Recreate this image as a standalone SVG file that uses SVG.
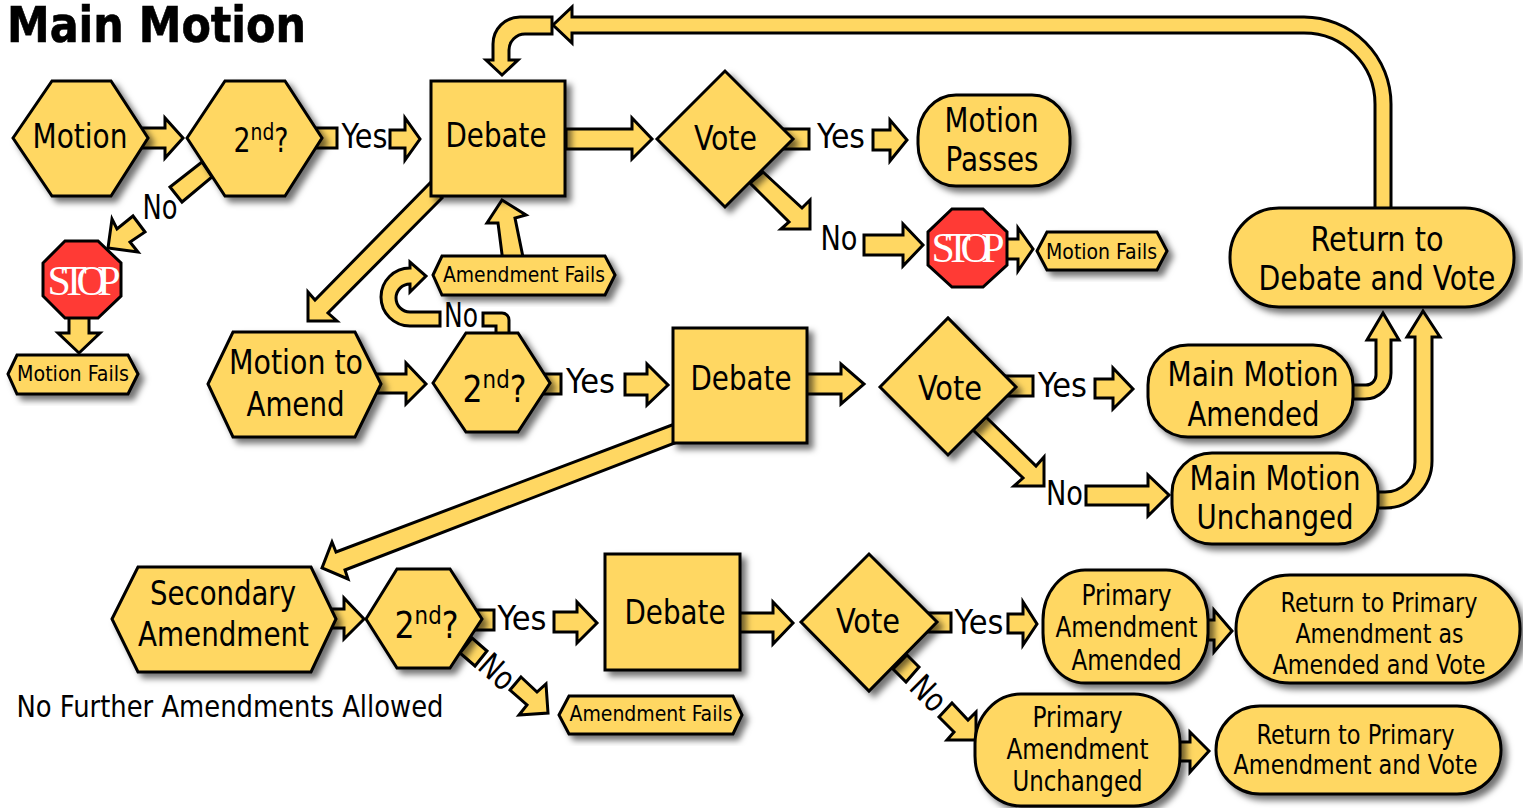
<svg xmlns="http://www.w3.org/2000/svg" width="1523" height="808" viewBox="0 0 1523 808">
<style>
text{font-family:"DejaVu Sans Condensed","DejaVu Sans",sans-serif;font-stretch:condensed;fill:#000;text-anchor:middle}
.a{fill:#FFD762;stroke:#000;stroke-width:3;stroke-linejoin:miter;stroke-miterlimit:10}
.n{fill:#FFD762;stroke:#000;stroke-width:3;stroke-linejoin:miter;filter:url(#sh)}
.s{fill:#FF3A35;stroke:#000;stroke-width:3}
.st{font-family:"Liberation Serif",serif;font-stretch:normal;fill:#fff;font-size:42px}
.l{font-size:33px}.m{font-size:28px}.f{font-size:21px}.b{font-size:34px}.r{font-size:26.500px}
.q{font-size:37px}
.t{font-weight:700;font-size:49px;text-anchor:start;stroke:#000;stroke-width:.6px}
</style>
<defs>
<filter id="sh" x="-20%" y="-20%" width="150%" height="150%"><feDropShadow dx="5" dy="5" stdDeviation="3.2" flood-color="#000" flood-opacity="0.55"/></filter>
</defs>
<rect width="1523" height="808" fill="#fff"/>
<text class="t" x="7" y="42" textLength="299" lengthAdjust="spacingAndGlyphs">Main Motion</text>
<text class="l" x="230" y="717" textLength="427" lengthAdjust="spacingAndGlyphs" style="font-size:30px">No Further Amendments Allowed</text>
<g id="connectors">
<polygon class="a" points="140,128 165,128 165,118 183,138 165,158 165,148 140,148"/>
<rect class="a" x="310" y="128" width="27" height="20"/>
<text class="l" x="364.500" y="148" textLength="46" lengthAdjust="spacingAndGlyphs">Yes</text>
<polygon class="a" points="390,130 405,130 405,118 420,139 405,160 405,148 390,148"/>
<polygon class="a" points="202,162 170,187 182,202 212,177"/>
<text class="l" x="160" y="219" textLength="35" lengthAdjust="spacingAndGlyphs">No</text>
<polygon class="a" points="133,216 145,232 130,242 138,252 108,248 112,219 117,229"/>
<polygon class="a" points="69,316 89,316 89,333 100,333 79,353 58,333 69,333"/>
<path class="a" d="M552,17 H520 A27,27 0 0 0 493,44 V60 H486 L502,75 L518,60 H509 V50 A16,16 0 0 1 525,34 H552 Z"/>
<path class="a" d="M1383,215 H1391 V104 A87,87 0 0 0 1304,17 H572 V7 L553,25 L572,43 V33 H1304 A71,71 0 0 1 1375,104 V215 Z"/>
<polygon class="a" points="566,129 632,129 632,118 652,139 632,159 632,149 566,149"/>
<rect class="a" x="780" y="129" width="29" height="20"/>
<text class="l" x="841" y="148" textLength="48" lengthAdjust="spacingAndGlyphs">Yes</text>
<polygon class="a" points="873,130 890,130 890,120 907,140 890,161 890,150 873,150"/>
<polygon class="a" points="763,172 802,208 810,200 810,229 781,229 789,222 750,183"/>
<text class="l" x="839" y="250" textLength="37" lengthAdjust="spacingAndGlyphs">No</text>
<polygon class="a" points="864,235 903,235 903,224 923,245 903,266 903,255 864,255"/>
<polygon class="a" points="1000,239 1018,239 1018,228 1033,249 1018,271 1018,259 1000,259"/>
<polygon class="a" points="430,183 315,300 308,292 308,321 337,321 328,313 442,198"/>
<polygon class="a" points="370,374 406,374 406,363 426,384 406,404 406,393 370,393"/>
<rect class="a" x="535" y="374" width="26" height="20"/>
<text class="l" x="590.500" y="393" textLength="49" lengthAdjust="spacingAndGlyphs">Yes</text>
<polygon class="a" points="625,374 647,374 647,364 668,385 647,405 647,395 625,395"/>
<path class="a" d="M496,340 V326 H483 V313 H502 A7,7 0 0 1 509,320 V340 Z"/>
<text class="l" x="461" y="327" textLength="34" lengthAdjust="spacingAndGlyphs">No</text>
<path class="a" d="M440,312 H410 A14,14 0 0 1 410,284 V292 L426,276 L410,262 V268 A29,29 0 0 0 410,326 H440 Z"/>
<polygon class="a" points="503,262 498,223 487,223 502,200 526,215 515,218 524,262"/>
<polygon class="a" points="800,374 841,374 841,364 864,384 841,404 841,394 800,394"/>
<rect class="a" x="1000" y="376" width="33" height="20"/>
<text class="l" x="1062.500" y="397" textLength="49" lengthAdjust="spacingAndGlyphs">Yes</text>
<polygon class="a" points="1095,379 1113,379 1113,368 1133,389 1113,409 1113,398 1095,398"/>
<polygon class="a" points="986,417 1036,466 1044,457 1044,486 1014,486 1023,478 973,430"/>
<text class="l" x="1064.500" y="505" textLength="37" lengthAdjust="spacingAndGlyphs">No</text>
<polygon class="a" points="1086,486 1148,486 1148,475 1169,495 1148,516 1148,505 1086,505"/>
<path class="a" d="M1345,385 H1366 A10,10 0 0 0 1376,375 V340 H1367 L1383,313 L1399,340 H1391 V373 A26,26 0 0 1 1365,399 H1345 Z"/>
<path class="a" d="M1370,492 H1385 A30,30 0 0 0 1415,462 V337 H1407 L1423,311 L1440,337 H1432 V461 A47,47 0 0 1 1385,508 H1370 Z"/>
<polygon class="a" points="336,552 332,542 322,568 348,579 345,570 680,441 680,422"/>
<polygon class="a" points="325,609 344,609 344,598 364,619 344,639 344,628 325,628"/>
<rect class="a" x="470" y="610" width="24" height="20"/>
<text class="l" x="522" y="630" textLength="49" lengthAdjust="spacingAndGlyphs">Yes</text>
<polygon class="a" points="472,638 487,651 475,666 460,653"/>
<text class="l" x="497" y="683" textLength="36" lengthAdjust="spacingAndGlyphs" transform="rotate(42 497 672)">No</text>
<polygon class="a" points="521,677 537,692 546,684 548,713 519,715 527,705 510,690"/>
<polygon class="a" points="554,612 577,612 577,602 597,623 577,643 577,632 554,632"/>
<polygon class="a" points="735,613 773,613 773,602 793,623 773,644 773,632 735,632"/>
<rect class="a" x="925" y="613" width="26" height="19"/>
<text class="l" x="979" y="634" textLength="49" lengthAdjust="spacingAndGlyphs">Yes</text>
<polygon class="a" points="1008,614 1023,614 1023,602 1037,624 1023,645 1023,633 1008,633"/>
<polygon class="a" points="907,655 919,667 906,682 893,669"/>
<text class="l" x="929" y="705" textLength="36" lengthAdjust="spacingAndGlyphs" transform="rotate(45 929 693)">No</text>
<polygon class="a" points="952,703 968,720 976,712 976,740 947,740 954,732 939,717"/>
<polygon class="a" points="1200,620 1214,620 1214,610 1232,631 1214,652 1214,640 1200,640"/>
<polygon class="a" points="1170,742 1190,742 1190,732 1209,751 1190,772 1190,761 1170,761"/>
</g>
<g id="motion"><polygon class="n" points="13,138 52,81 111,81 148,138 111,196 52,196"/><text class="l" x="80" y="148" textLength="95" lengthAdjust="spacingAndGlyphs">Motion</text></g>
<g id="second-1"><polygon class="n" points="187,138 225,81 285,81 322,138 285,196 225,196"/><text class="l" x="261" y="152" textLength="55" lengthAdjust="spacingAndGlyphs">2<tspan dy="-12" font-size="23">nd</tspan><tspan dy="12">?</tspan></text></g>
<g id="stop-1"><polygon class="s" points="65,241 98,241 121,263 121,296 98,318 65,318 43,296 43,263"/><text class="st" x="84" y="295" textLength="73">STOP</text></g>
<g id="motion-fails-1"><polygon class="n" points="8,374 17,355 128,355 138,374 128,394 17,394"/><text class="f" x="73" y="381" textLength="112" lengthAdjust="spacingAndGlyphs">Motion Fails</text></g>
<g id="debate-1"><rect class="n" x="431" y="81" width="134" height="115"/><text class="l" x="496" y="147" textLength="101" lengthAdjust="spacingAndGlyphs">Debate</text></g>
<g id="vote-1"><polygon class="n" points="657,139 725,71 793,139 725,207"/><text class="l" x="725.500" y="150" textLength="63" lengthAdjust="spacingAndGlyphs">Vote</text></g>
<g id="motion-passes"><rect class="n" x="918" y="95" width="152" height="91" rx="38" ry="42"/><text class="l" x="991.500" y="132" textLength="94" lengthAdjust="spacingAndGlyphs">Motion</text><text class="l" x="992" y="171" textLength="93" lengthAdjust="spacingAndGlyphs">Passes</text></g>
<g id="stop-2"><polygon class="s" points="952,209 983,209 1007,232 1007,265 983,287 952,287 928,265 928,232"/><text class="st" x="968" y="262" textLength="73">STOP</text></g>
<g id="motion-fails-2"><polygon class="n" points="1037,251 1047,232 1157,232 1167,251 1157,270 1047,270"/><text class="f" x="1101.500" y="259" textLength="111" lengthAdjust="spacingAndGlyphs">Motion Fails</text></g>
<g id="amendment-fails-1"><polygon class="n" points="433,275 442,256 605,256 615,275 605,295 442,295"/><text class="f" x="524" y="282" textLength="162" lengthAdjust="spacingAndGlyphs">Amendment Fails</text></g>
<g id="motion-to-amend"><polygon class="n" points="208,384 233,332 355,332 381,384 355,437 233,437"/><text class="b" x="296" y="374" textLength="134" lengthAdjust="spacingAndGlyphs">Motion to</text><text class="b" x="295.500" y="416" textLength="98" lengthAdjust="spacingAndGlyphs">Amend</text></g>
<g id="second-2"><polygon class="n" points="433,383 466,333 518,333 550,383 518,432 466,432"/><text class="q" x="494.500" y="402" textLength="64" lengthAdjust="spacingAndGlyphs">2<tspan dy="-14" font-size="25">nd</tspan><tspan dy="14">?</tspan></text></g>
<g id="debate-2"><rect class="n" x="673" y="328" width="134" height="115"/><text class="l" x="741" y="390" textLength="101" lengthAdjust="spacingAndGlyphs">Debate</text></g>
<g id="vote-2"><polygon class="n" points="880,387 948,318 1016,387 948,455"/><text class="l" x="950" y="400" textLength="64" lengthAdjust="spacingAndGlyphs">Vote</text></g>
<g id="main-motion-amended"><rect class="n" x="1148" y="345" width="205" height="92" rx="40" ry="40"/><text class="b" x="1253" y="386" textLength="171" lengthAdjust="spacingAndGlyphs">Main Motion</text><text class="b" x="1253.500" y="426" textLength="132" lengthAdjust="spacingAndGlyphs">Amended</text></g>
<g id="main-motion-unchanged"><rect class="n" x="1172" y="453" width="206" height="91" rx="40" ry="40"/><text class="b" x="1275" y="490" textLength="171" lengthAdjust="spacingAndGlyphs">Main Motion</text><text class="b" x="1275" y="529" textLength="157" lengthAdjust="spacingAndGlyphs">Unchanged</text></g>
<g id="return-debate-vote"><rect class="n" x="1230" y="208" width="284" height="99" rx="49" ry="49"/><text class="b" x="1377" y="251" textLength="133" lengthAdjust="spacingAndGlyphs">Return to</text><text class="b" x="1377" y="290" textLength="237" lengthAdjust="spacingAndGlyphs">Debate and Vote</text></g>
<g id="secondary-amendment"><polygon class="n" points="112,619 138,567 311,567 336,619 311,672 138,672"/><text class="b" x="223" y="605" textLength="146" lengthAdjust="spacingAndGlyphs">Secondary</text><text class="b" x="223.500" y="646" textLength="171" lengthAdjust="spacingAndGlyphs">Amendment</text></g>
<g id="second-3"><polygon class="n" points="366,619 397,569 450,569 482,619 450,668 397,668"/><text class="q" x="426.500" y="638" textLength="64" lengthAdjust="spacingAndGlyphs">2<tspan dy="-14" font-size="25">nd</tspan><tspan dy="14">?</tspan></text></g>
<g id="amendment-fails-2"><polygon class="n" points="559,715 569,696 733,696 742,715 733,734 569,734"/><text class="f" x="651" y="721" textLength="163" lengthAdjust="spacingAndGlyphs">Amendment Fails</text></g>
<g id="debate-3"><rect class="n" x="605" y="554" width="135" height="116"/><text class="l" x="675" y="624" textLength="101" lengthAdjust="spacingAndGlyphs">Debate</text></g>
<g id="vote-3"><polygon class="n" points="801,622 869,554 937,622 869,691"/><text class="l" x="868" y="633" textLength="64" lengthAdjust="spacingAndGlyphs">Vote</text></g>
<g id="primary-amended"><rect class="n" x="1043" y="570" width="165" height="113" rx="42" ry="50"/><text class="m" x="1126.500" y="605" textLength="90" lengthAdjust="spacingAndGlyphs">Primary</text><text class="m" x="1126.500" y="637" textLength="142" lengthAdjust="spacingAndGlyphs">Amendment</text><text class="m" x="1126.500" y="670" textLength="110" lengthAdjust="spacingAndGlyphs">Amended</text></g>
<g id="primary-unchanged"><rect class="n" x="975" y="694" width="205" height="112" rx="46" ry="50"/><text class="m" x="1077.500" y="727" textLength="90" lengthAdjust="spacingAndGlyphs">Primary</text><text class="m" x="1077.500" y="759" textLength="142" lengthAdjust="spacingAndGlyphs">Amendment</text><text class="m" x="1077.500" y="791" textLength="130" lengthAdjust="spacingAndGlyphs">Unchanged</text></g>
<g id="return-primary-amended"><rect class="n" x="1236" y="575" width="284" height="108" rx="54" ry="54"/><text class="r" x="1379" y="612" textLength="197" lengthAdjust="spacingAndGlyphs">Return to Primary</text><text class="r" x="1379.500" y="643" textLength="168" lengthAdjust="spacingAndGlyphs">Amendment as</text><text class="r" x="1379" y="674" textLength="213" lengthAdjust="spacingAndGlyphs">Amended and Vote</text></g>
<g id="return-primary"><rect class="n" x="1216" y="706" width="285" height="88" rx="44" ry="44"/><text class="r" x="1355.500" y="744" textLength="198" lengthAdjust="spacingAndGlyphs">Return to Primary</text><text class="r" x="1355.500" y="774" textLength="244" lengthAdjust="spacingAndGlyphs">Amendment and Vote</text></g>
</svg>
